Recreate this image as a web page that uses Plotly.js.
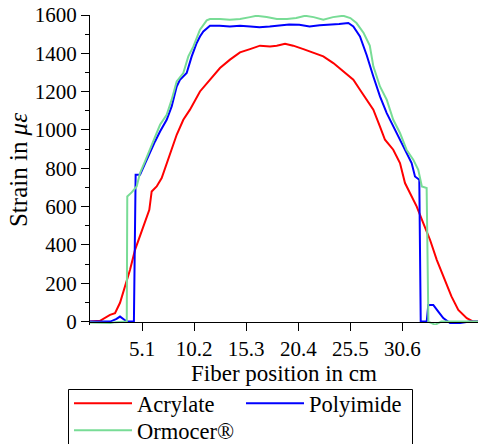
<!DOCTYPE html>
<html>
<head>
<meta charset="utf-8">
<script src="https://cdn.plot.ly/plotly-3.0.1.min.js"></script>
<style>
html,body{margin:0;padding:0;background:#fff;}
#chart{width:478px;height:444px;}
</style>
</head>
<body>
<div id="chart"></div>
<script>
// Fiber position in cm and strain in micro-strain
const acrylateX = [0, 0.98, 1.96, 2.45, 2.94, 3.43, 3.92, 4.41, 4.9, 5.39, 5.81, 6.04, 6.53, 7.02, 7.51, 8.0, 8.49, 9.14, 9.79, 10.77, 11.75, 12.73, 13.71, 14.69, 15.67, 16.65, 17.63, 18.29, 19.1, 19.9, 20.9, 21.87, 22.85, 23.83, 24.81, 25.79, 26.44, 27.1, 27.75, 28.4, 28.89, 29.7, 30.36, 30.85, 31.35, 32.0, 32.64, 33.3, 33.96, 34.77, 35.4, 36.07, 36.9, 37.54, 38];
const acrylateY = [0, 4, 35, 44, 98, 183, 270, 374, 444, 514, 583, 679, 705, 749, 827, 897, 975, 1053, 1106, 1201, 1262, 1323, 1367, 1405, 1422, 1440, 1436, 1440, 1450, 1440, 1422, 1405, 1384, 1349, 1305, 1262, 1210, 1158, 1106, 1018, 949, 897, 827, 723, 670, 600, 514, 427, 322, 218, 131, 61, 18, 0, 0];

const polyimideX = [0, 1, 2, 2.6, 2.94, 3.3, 3.6, 4.3, 4.47, 4.9, 5.39, 5.88, 6.37, 6.86, 7.51, 8.0, 8.49, 8.81, 9.47, 9.96, 10.45, 10.77, 11.1, 11.75, 12.7, 13.7, 14.7, 15.7, 16.6, 17.6, 18.5, 19.5, 20.5, 21.5, 22.5, 23.4, 24.4, 25.3, 25.79, 26.44, 27.1, 27.75, 28.4, 29.06, 29.7, 30.36, 31.0, 31.5, 31.83, 32.25, 32.39, 32.98, 33.13, 33.62, 34.11, 34.6, 35.26, 36.24, 37.2, 38];
const polyimideY = [0, 0, 0, 14, 26, 12, 0, 0, 766, 766, 827, 879, 940, 992, 1053, 1123, 1227, 1262, 1297, 1384, 1454, 1488, 1514, 1544, 1544, 1540, 1544, 1540, 1536, 1540, 1547, 1551, 1549, 1540, 1547, 1549, 1553, 1558, 1540, 1488, 1390, 1279, 1175, 1088, 1018, 949, 879, 827, 757, 740, 0, 0, 87, 87, 52, 18, -8, -8, 0, 0];

const ormocerX = [0, 1, 2, 2.5, 3.0, 3.6, 3.65, 4.08, 4.57, 4.9, 5.39, 5.88, 6.37, 6.86, 7.51, 8.0, 8.49, 9.14, 9.63, 10.13, 10.77, 11.43, 11.75, 12.73, 13.7, 14.7, 15.67, 16.3, 17.3, 18.3, 19.3, 20.2, 21.06, 21.9, 22.85, 23.8, 24.8, 25.5, 26.1, 26.8, 27.4, 27.75, 28.4, 29.06, 29.7, 30.36, 31.0, 31.66, 32.15, 32.5, 32.97, 33.14, 33.8, 34.4, 36, 38];
const ormocerY = [-5, -8, -8, -3, 0, 0, 653, 674, 705, 775, 836, 897, 958, 1027, 1079, 1158, 1253, 1297, 1384, 1436, 1523, 1572, 1579, 1579, 1575, 1579, 1589, 1596, 1589, 1579, 1579, 1584, 1596, 1589, 1575, 1589, 1596, 1584, 1558, 1506, 1440, 1332, 1227, 1158, 1053, 984, 897, 845, 792, 705, 697, 0, -17, 0, 0, 0];

const xTicks = [5.1, 10.2, 15.3, 20.4, 25.5, 30.6];
const xTickText = ['5.1', '10.2', '15.3', '20.4', '25.5', '30.6'];

const serif = 'Liberation Serif';

const traces = [
  {x: acrylateX, y: acrylateY, name: 'Acrylate', mode: 'lines', line: {color: '#ff0000', width: 2}, legend: 'legend'},
  {x: polyimideX, y: polyimideY, name: 'Polyimide', mode: 'lines', line: {color: '#0000ff', width: 2}, legend: 'legend'},
  {x: ormocerX, y: ormocerY, name: 'Ormocer®', mode: 'lines', line: {color: 'rgb(120,220,150)', width: 2}, legend: 'legend2'}
];

const yMin = -18, yMax = 1600;
// plot area in px: left 90, right 478, top 15, bottom 325
const pxX = p => (p - 90) / 388;
const pxY = p => (325 - p) / 310;

const legendCommon = {
  orientation: 'h', xanchor: 'left', yanchor: 'top',
  borderwidth: 0, bgcolor: 'rgba(0,0,0,0)',
  font: {family: serif, size: 22.5, color: '#000'},
  entrywidth: 99, entrywidthmode: 'pixels', itemwidth: 58,
  traceorder: 'normal', tracegroupgap: 0
};

const layout = {
  width: 478, height: 444,
  margin: {l: 90, r: 0, t: 15, b: 119, autoexpand: false},
  paper_bgcolor: '#fff', plot_bgcolor: '#fff',
  font: {family: serif, color: '#000', size: 21},
  showlegend: true,
  legend: Object.assign({}, legendCommon, {x: pxX(69), y: pxY(382)}),
  legend2: Object.assign({}, legendCommon, {x: pxX(69), y: pxY(409)}),
  shapes: [{
    type: 'rect', xref: 'paper', yref: 'paper', layer: 'above',
    x0: pxX(68.5), x1: pxX(412.5), y0: pxY(389.5), y1: pxY(460),
    line: {color: '#000', width: 1}, fillcolor: 'rgba(0,0,0,0)'
  }],
  xaxis: {
    range: [0, 38], anchor: 'free', position: (0 - yMin) / (yMax - yMin),
    automargin: true,
    tickmode: 'array', tickvals: xTicks, ticktext: xTickText,
    ticks: 'outside', ticklen: 8, tickwidth: 1, tickcolor: '#000',
    showline: true, linecolor: '#000', linewidth: 1,
    showgrid: false, zeroline: false,
    tickfont: {family: serif, size: 21, color: '#000'},
    title: {text: 'Fiber position in cm', font: {family: serif, size: 23, color: '#000'}, standoff: 0}
  },
  yaxis: {
    range: [yMin, yMax], tickmode: 'linear', tick0: 0, dtick: 200,
    automargin: true,
    ticks: 'outside', ticklen: 8, tickwidth: 1, tickcolor: '#000',
    minor: {dtick: 100, tick0: 0, ticks: 'outside', ticklen: 4, tickcolor: '#000', showgrid: false},
    showline: true, linecolor: '#000', linewidth: 1,
    showgrid: false, zeroline: false,
    tickfont: {family: serif, size: 21, color: '#000'},
    title: {text: 'Strain in <i>με</i>', font: {family: serif, size: 25, color: '#000'}, standoff: 0}
  }
};

Plotly.newPlot('chart', traces, layout, {displayModeBar: false, staticPlot: true});
</script>
</body>
</html>
